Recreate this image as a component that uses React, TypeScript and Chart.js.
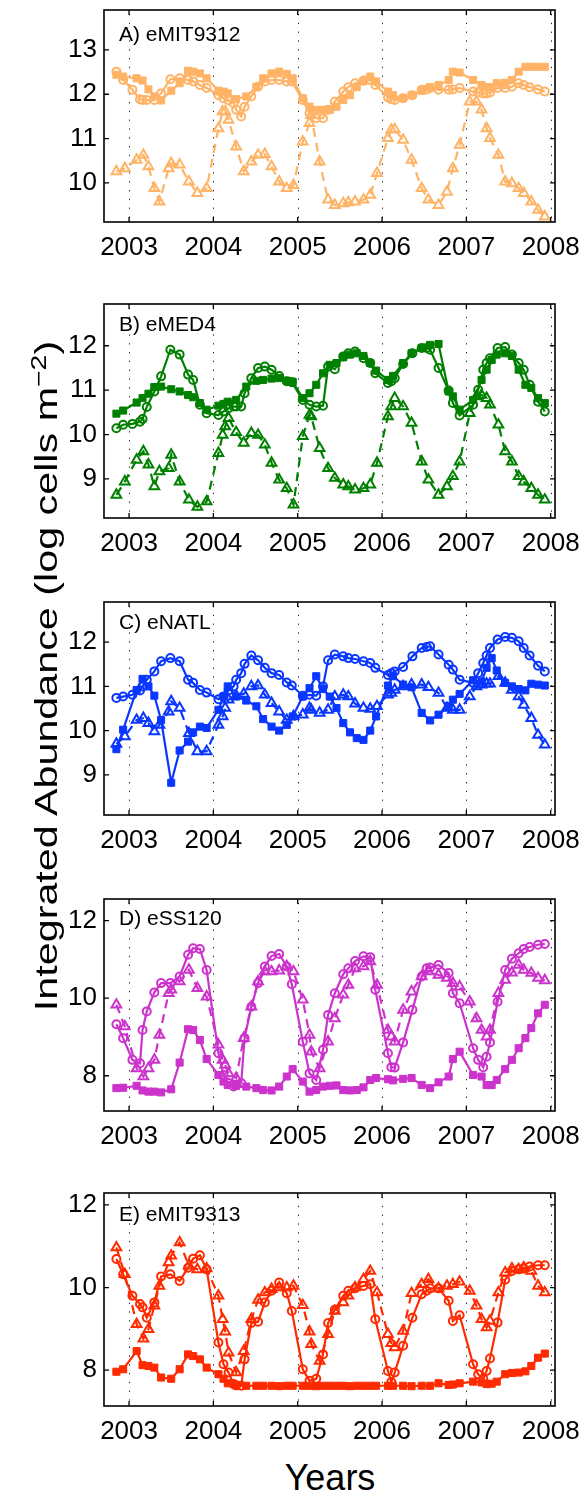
import React, { useEffect, useRef } from "react";
import { Chart, registerables } from "chart.js";

Chart.register(...registerables);

const FONT = '"Liberation Sans", Arial, Helvetica, sans-serif';

// x axis
const yearTicks = [2003, 2004, 2005, 2006, 2007, 2008];
const xMin = 2002.703;
const xMax = 2008.051;

// sampling dates (decimal years) of the three series
const squareDates = [
  2002.85, 2002.93, 2003.09, 2003.16, 2003.23, 2003.3, 2003.38, 2003.5, 2003.6, 2003.7,
  2003.76, 2003.84, 2003.92, 2004.06, 2004.12, 2004.17, 2004.27, 2004.39, 2004.51, 2004.59,
  2004.69, 2004.78, 2004.87, 2004.94, 2005.06, 2005.14, 2005.22, 2005.3, 2005.38, 2005.46,
  2005.54, 2005.62, 2005.7, 2005.78, 2005.86, 2005.93, 2006.07, 2006.13, 2006.25, 2006.35,
  2006.47, 2006.57, 2006.67, 2006.79, 2006.84, 2006.92, 2007.08, 2007.18, 2007.24, 2007.3,
  2007.36, 2007.46, 2007.54, 2007.62, 2007.7, 2007.77, 2007.85, 2007.93,
];
const circleDates = [
  2002.85, 2002.93, 2003.04, 2003.13, 2003.16, 2003.21, 2003.3, 2003.38, 2003.49, 2003.6,
  2003.7, 2003.76, 2003.84, 2003.92, 2004.06, 2004.12, 2004.18, 2004.24, 2004.27, 2004.33,
  2004.37, 2004.45, 2004.53, 2004.61, 2004.69, 2004.78, 2004.87, 2004.93, 2005.06, 2005.14,
  2005.22, 2005.3, 2005.36, 2005.44, 2005.54, 2005.6, 2005.68, 2005.78, 2005.86, 2005.92,
  2006.07, 2006.11, 2006.15, 2006.25, 2006.36, 2006.47, 2006.53, 2006.57, 2006.67, 2006.79,
  2006.84, 2006.92, 2007.08, 2007.14, 2007.2, 2007.24, 2007.28, 2007.37, 2007.46, 2007.54,
  2007.62, 2007.68, 2007.75, 2007.85, 2007.93,
];
const triangleDates = [
  2002.85, 2002.95, 2003.09, 2003.17, 2003.23, 2003.3, 2003.36, 2003.47, 2003.5, 2003.6,
  2003.71, 2003.81, 2003.92, 2004.06, 2004.11, 2004.14, 2004.18, 2004.27, 2004.36, 2004.45,
  2004.53, 2004.61, 2004.69, 2004.78, 2004.87, 2004.95, 2005.06, 2005.14, 2005.16, 2005.26,
  2005.36, 2005.44, 2005.54, 2005.6, 2005.68, 2005.78, 2005.86, 2005.94, 2006.07, 2006.11,
  2006.15, 2006.25, 2006.35, 2006.47, 2006.55, 2006.67, 2006.77, 2006.84, 2006.92, 2007.04,
  2007.12, 2007.18, 2007.24, 2007.28, 2007.38, 2007.46, 2007.54, 2007.62, 2007.68, 2007.77,
  2007.85, 2007.93,
];

// A) eMIT9312
const aSquares = [
  12.44, 12.4, 12.36, 12.31, 12.11, 11.95, 11.86, 12.08, 12.25, 12.53,
  12.51, 12.47, 12.36, 12.08, 12.06, 12.02, 11.89, 11.95, 12.17, 12.36,
  12.47, 12.51, 12.46, 12.36, 11.91, 11.72, 11.65, 11.65, 11.65, 11.72,
  11.87, 11.98, 12.16, 12.29, 12.4, 12.29, 12.06, 11.98, 11.91, 11.98,
  12.08, 12.16, 12.21, 12.32, 12.51, 12.49, 12.32, 12.21, 12.16, 12.16,
  12.25, 12.26, 12.32, 12.51, 12.62, 12.62, 12.62, 12.62,
];
const aCircles = [
  12.51, 12.32, 12.1, 11.89, 11.87, 11.87, 11.87, 12.02, 12.34, 12.36,
  12.32, 12.29, 12.21, 12.14, 11.98, 11.91, 11.86, 11.8, 11.65, 11.5,
  11.72, 11.95, 12.17, 12.29, 12.32, 12.32, 12.29, 12.29, 11.87, 11.57,
  11.46, 11.46, 11.65, 11.83, 12.06, 12.16, 12.25, 12.31, 12.32, 12.21,
  11.93, 11.89, 11.87, 11.91, 11.98, 12.1, 12.11, 12.14, 12.1, 12.1,
  12.11, 12.14, 12.06, 12.04, 12.02, 12.02, 12.04, 12.14, 12.14, 12.17,
  12.25, 12.21, 12.16, 12.11, 12.06,
];
const aTriangles = [
  10.26, 10.33, 10.52, 10.63, 10.37, 9.88, 9.58, 10.33, 10.44, 10.41,
  10.03, 9.77, 9.88, 11.23, 11.61, 11.61, 11.42, 10.82, 10.26, 10.48,
  10.63, 10.65, 10.37, 10.03, 9.88, 9.95, 10.93, 11.35, 11.53, 10.48,
  9.62, 9.5, 9.54, 9.56, 9.58, 9.62, 9.73, 10.22, 11.01, 11.2,
  11.21, 10.97, 10.52, 9.88, 9.62, 9.5, 9.8, 10.33, 10.86, 11.83,
  11.83, 11.65, 11.23, 11.01, 10.63, 10.03, 9.99, 9.88, 9.77, 9.58,
  9.39, 9.24,
];

// B) eMED4
const bSquares = [
  10.47, 10.54, 10.72, 10.82, 10.92, 11.07, 11.08, 11.02, 10.97, 10.89,
  10.84, 10.71, 10.56, 10.65, 10.69, 10.74, 10.78, 11.08, 11.21, 11.23,
  11.26, 11.27, 11.21, 11.19, 10.82, 10.93, 11.12, 11.38, 11.57, 11.61,
  11.74, 11.8, 11.83, 11.77, 11.61, 11.44, 11.23, 11.32, 11.61, 11.83,
  11.95, 12.02, 12.04, 10.97, 10.86, 10.56, 10.78, 11.23, 11.46, 11.68,
  11.8, 11.83, 11.77, 11.46, 11.12, 11.05, 10.82, 10.71,
];
const bCircles = [
  10.14, 10.22, 10.24, 10.29, 10.35, 10.62, 10.97, 11.31, 11.91, 11.8,
  11.35, 11.23, 10.67, 10.48, 10.44, 10.52, 10.59, 10.63, 10.63, 10.63,
  10.93, 11.27, 11.5, 11.53, 11.46, 11.32, 11.2, 11.18, 10.78, 10.67,
  10.63, 10.65, 11.53, 11.47, 11.76, 11.83, 11.87, 11.72, 11.61, 11.38,
  11.16, 11.2, 11.27, 11.59, 11.83, 11.95, 11.95, 11.91, 11.5, 10.99,
  10.71, 10.43, 10.67, 11.01, 11.46, 11.61, 11.72, 11.95, 11.97, 11.8,
  11.61, 11.46, 11.12, 10.74, 10.52,
];
const bTriangles = [
  8.64, 8.94, 9.43, 9.62, 9.32, 8.83, 9.17, 9.24, 9.54, 8.94,
  8.53, 8.37, 8.49, 9.58, 9.99, 10.18, 10.37, 10.05, 9.81, 10.03,
  9.99, 9.77, 9.36, 8.98, 8.79, 8.42, 9.96, 10.44, 10.41, 9.69,
  9.24, 9.02, 8.87, 8.83, 8.76, 8.79, 8.87, 9.36, 10.41, 10.63,
  10.82, 10.63, 10.26, 9.39, 8.98, 8.64, 8.83, 9.06, 9.39, 10.48,
  10.86, 10.89, 10.82, 10.67, 10.22, 9.62, 9.39, 9.06, 8.94, 8.79,
  8.64, 8.53,
];

// C) eNATL
const cSquares = [
  9.58, 10.02, 10.92, 11.17, 11.0, 10.79, 10.24, 8.82, 9.55, 9.75,
  9.96, 10.09, 10.06, 10.47, 10.77, 11.0, 10.77, 10.68, 10.55, 10.26,
  10.09, 10.0, 10.13, 10.32, 10.77, 10.96, 11.23, 10.94, 10.77, 10.51,
  10.17, 9.96, 9.83, 9.79, 10.0, 10.32, 11.02, 11.23, 11.04, 10.98,
  10.4, 10.23, 10.36, 10.55, 10.7, 10.83, 11.14, 11.11, 11.42, 11.64,
  11.36, 11.08, 11.0, 10.94, 10.91, 11.06, 11.04, 11.02,
];
const cCircles = [
  10.74, 10.77, 10.81, 10.91, 11.0, 11.15, 11.34, 11.57, 11.64, 11.57,
  11.15, 11.08, 10.92, 10.86, 10.71, 10.77, 10.91, 11.0, 11.15, 11.3,
  11.51, 11.7, 11.59, 11.42, 11.3, 11.26, 11.09, 11.02, 10.79, 10.81,
  10.79, 11.0, 11.59, 11.72, 11.68, 11.64, 11.62, 11.57, 11.53, 11.42,
  11.26, 11.3, 11.34, 11.44, 11.68, 11.87, 11.89, 11.91, 11.72, 11.49,
  11.38, 11.15, 11.08, 11.3, 11.53, 11.7, 11.87, 12.06, 12.12, 12.1,
  12.02, 11.87, 11.7, 11.47, 11.34,
];
const cTriangles = [
  9.7, 9.87, 10.24, 10.28, 10.17, 9.98, 10.13, 10.43, 10.66, 10.51,
  9.94, 9.53, 9.53, 10.13, 10.32, 10.51, 10.7, 10.79, 10.83, 11.0,
  11.02, 10.81, 10.62, 10.43, 10.24, 10.32, 10.36, 10.51, 10.47, 10.4,
  10.47, 10.77, 10.81, 10.77, 10.61, 10.51, 10.49, 10.55, 10.81, 10.85,
  10.92, 11.0, 11.04, 11.04, 10.98, 10.85, 10.51, 10.47, 10.47, 10.77,
  11.0, 11.04, 11.06, 11.06, 11.23, 11.08, 10.92, 10.77, 10.58, 10.28,
  9.9, 9.68,
];

// D) eSS120
const dSquares = [
  7.68, 7.69, 7.74, 7.62, 7.59, 7.59, 7.57, 7.65, 8.34, 9.2,
  9.18, 8.92, 8.43, 8.02, 7.85, 7.76, 7.74, 7.72, 7.68, 7.63,
  7.62, 7.72, 7.98, 8.17, 7.85, 7.59, 7.63, 7.72, 7.74, 7.75,
  7.63, 7.62, 7.63, 7.7, 7.89, 7.94, 7.91, 7.88, 7.92, 7.94,
  7.76, 7.68, 7.83, 7.98, 8.43, 8.62, 8.02, 7.98, 7.76, 7.76,
  7.89, 8.17, 8.41, 8.71, 8.97, 9.23, 9.61, 9.83,
];
const dCircles = [
  9.33, 8.97, 8.41, 8.32, 9.18, 9.66, 10.15, 10.39, 10.39, 10.56,
  11.12, 11.29, 11.27, 10.73, 8.58, 8.02, 7.81, 7.72, 7.76, 7.81,
  8.97, 9.78, 10.39, 10.82, 11.09, 11.14, 10.82, 10.36, 8.88, 8.06,
  7.89, 8.67, 9.57, 10.13, 10.62, 10.77, 10.96, 11.08, 11.06, 10.22,
  8.58, 8.22, 8.21, 8.86, 9.7, 10.56, 10.77, 10.79, 10.86, 10.65,
  10.13, 9.87, 8.71, 8.41, 8.22, 8.49, 8.86, 9.91, 10.73, 11.02,
  11.16, 11.27, 11.32, 11.38, 11.4,
];
const dTriangles = [
  9.83, 9.27, 8.19, 7.98, 8.19, 8.41, 9.05, 10.13, 10.22, 10.43,
  10.73, 10.26, 10.04, 8.8, 8.41, 8.28, 8.06, 7.94, 8.97, 9.78,
  10.43, 10.69, 10.69, 10.71, 10.82, 10.69, 9.96, 9.05, 8.62, 8.19,
  8.88, 9.48, 10.09, 10.34, 10.77, 10.82, 10.95, 10.34, 9.18, 9.01,
  8.88, 9.7, 10.17, 10.56, 10.69, 10.6, 10.52, 10.39, 10.3, 9.91,
  9.48, 9.18, 9.01, 9.18, 10.13, 10.47, 10.66, 10.86, 10.73, 10.65,
  10.52, 10.46,
];

// E) eMIT9313
const eSquares = [
  7.96, 8.02, 8.46, 8.12, 8.1, 8.06, 7.82, 7.79, 8.02, 8.38,
  8.34, 8.26, 8.06, 7.9, 7.79, 7.68, 7.63, 7.62, 7.62, 7.62,
  7.62, 7.61, 7.62, 7.62, 7.62, 7.62, 7.61, 7.62, 7.62, 7.62,
  7.62, 7.61, 7.62, 7.62, 7.62, 7.62, 7.62, 7.62, 7.62, 7.61,
  7.62, 7.62, 7.68, 7.64, 7.65, 7.68, 7.72, 7.7, 7.66, 7.67,
  7.72, 7.9, 7.93, 7.94, 7.97, 8.1, 8.3, 8.4,
];
const eCircles = [
  10.69, 10.32, 9.8, 9.6, 9.52, 9.27, 9.64, 10.27, 10.32, 10.16,
  10.48, 10.7, 10.78, 10.44, 8.67, 8.14, 7.94, 7.66, 7.63, 7.62,
  8.26, 9.14, 9.17, 9.64, 9.92, 10.12, 9.86, 9.43, 8.02, 7.74,
  7.79, 8.38, 9.14, 9.46, 9.8, 9.92, 9.98, 10.04, 10.08, 9.23,
  7.98, 7.71, 7.94, 8.59, 9.27, 9.84, 9.92, 9.98, 9.98, 9.68,
  9.19, 9.33, 8.14, 7.9, 7.79, 7.98, 8.28, 9.15, 10.19, 10.4,
  10.44, 10.46, 10.51, 10.54, 10.54,
];
const eTriangles = [
  10.97, 10.32, 9.11, 8.76, 8.99, 9.56, 10.04, 10.61, 10.77, 11.09,
  10.53, 10.44, 10.46, 9.8, 9.23, 8.93, 8.42, 7.94, 8.46, 9.23,
  9.7, 9.88, 9.96, 10.0, 10.0, 10.04, 9.57, 8.93, 8.63, 8.22,
  8.87, 9.43, 9.64, 9.8, 10.0, 10.2, 10.4, 9.88, 8.87, 8.65,
  8.55, 8.95, 9.86, 10.08, 10.2, 9.98, 10.04, 10.08, 10.14, 9.92,
  9.56, 9.23, 9.03, 9.19, 9.88, 10.36, 10.46, 10.44, 10.48, 10.4,
  10.04, 9.88,
];

// y tick values per panel
const yTicksA = [10, 11, 12, 13];
const yTicksB = [9, 10, 11, 12];
const yTicksC = [9, 10, 11, 12];
const yTicksD = [8, 10, 12];
const yTicksE = [8, 10, 12];

type PanelDef = {
  label: string;
  color: string;
  yMin: number;
  yMax: number;
  yTicks: number[];
  squares: number[];
  circles: number[];
  triangles: number[];
  boxTop: number;
  boxBottom: number;
  labelDy: number;
};

const panels: PanelDef[] = [
  { label: "A) eMIT9312", color: "#ffb366", yMin: 9.12, yMax: 13.9, yTicks: yTicksA, squares: aSquares, circles: aCircles, triangles: aTriangles, boxTop: 10, boxBottom: 222, labelDy: 31 },
  { label: "B) eMED4", color: "#008000", yMin: 8.12, yMax: 12.94, yTicks: yTicksB, squares: bSquares, circles: bCircles, triangles: bTriangles, boxTop: 304, boxBottom: 518, labelDy: 27 },
  { label: "C) eNATL", color: "#0a37ff", yMin: 8.09, yMax: 12.91, yTicks: yTicksC, squares: cSquares, circles: cCircles, triangles: cTriangles, boxTop: 602, boxBottom: 815, labelDy: 27 },
  { label: "D) eSS120", color: "#cc33cc", yMin: 7.09, yMax: 12.56, yTicks: yTicksD, squares: dSquares, circles: dCircles, triangles: dTriangles, boxTop: 899, boxBottom: 1111, labelDy: 26 },
  { label: "E) eMIT9313", color: "#ff2a00", yMin: 7.13, yMax: 12.29, yTicks: yTicksE, squares: eSquares, circles: eCircles, triangles: eTriangles, boxTop: 1193, boxBottom: 1406, labelDy: 28 },
];

const PAD_TOP = 10;
const X_AXIS_H = 48;
const Y_AXIS_W = 104;
const PAD_RIGHT = 29;
const CANVAS_W = 584;

function framePlugin(p: PanelDef) {
  return {
    id: "frame",
    beforeDatasetsDraw(chart: any) {
      const { ctx, chartArea: a, scales } = chart;
      ctx.save();
      ctx.strokeStyle = "#222";
      ctx.lineWidth = 1;
      ctx.setLineDash([1.3, 7.5]);
      for (const t of yearTicks) {
        const px = Math.round(scales.x.getPixelForValue(t)) + 0.5;
        ctx.beginPath();
        ctx.moveTo(px, a.top + 4);
        ctx.lineTo(px, a.bottom);
        ctx.stroke();
      }
      ctx.restore();
    },
    afterDatasetsDraw(chart: any) {
      const { ctx, chartArea: a, scales } = chart;
      ctx.save();
      ctx.strokeStyle = "#000";
      ctx.lineWidth = 1.3;
      ctx.setLineDash([]);
      const tl = 5;
      for (const t of yearTicks) {
        const px = scales.x.getPixelForValue(t);
        ctx.beginPath();
        ctx.moveTo(px, a.bottom);
        ctx.lineTo(px, a.bottom - tl);
        ctx.moveTo(px, a.top);
        ctx.lineTo(px, a.top + tl);
        ctx.stroke();
      }
      for (const t of p.yTicks) {
        const py = scales.y.getPixelForValue(t);
        ctx.beginPath();
        ctx.moveTo(a.left, py);
        ctx.lineTo(a.left + tl, py);
        ctx.moveTo(a.right, py);
        ctx.lineTo(a.right - tl, py);
        ctx.stroke();
      }
      ctx.lineWidth = 1.6;
      ctx.strokeRect(a.left, a.top, a.right - a.left, a.bottom - a.top);
      ctx.fillStyle = "#000";
      ctx.font = `21px ${FONT}`;
      ctx.textAlign = "left";
      ctx.textBaseline = "alphabetic";
      ctx.fillText(p.label, a.left + 15, a.top + p.labelDy);
      ctx.restore();
    },
  };
}

function Panel({ p }: { p: PanelDef }) {
  const ref = useRef<HTMLCanvasElement>(null);
  const H = p.boxBottom - p.boxTop + PAD_TOP + X_AXIS_H;
  useEffect(() => {
    const canvas = ref.current;
    if (!canvas) return;
    const mk = (dates: number[], vals: number[]) => dates.map((x, i) => ({ x, y: vals[i] }));
    const chart = new Chart(canvas, {
      type: "line",
      data: {
        datasets: [
          {
            data: mk(squareDates, p.squares),
            borderColor: p.color,
            backgroundColor: p.color,
            pointBackgroundColor: p.color,
            pointBorderColor: p.color,
            pointStyle: "rect",
            pointRadius: 5,
            pointBorderWidth: 1,
            borderWidth: 2.2,
            tension: 0,
            fill: false,
            clip: false,
          },
          {
            data: mk(circleDates, p.circles),
            borderColor: p.color,
            backgroundColor: "rgba(0,0,0,0)",
            pointBackgroundColor: "rgba(0,0,0,0)",
            pointBorderColor: p.color,
            pointStyle: "circle",
            pointRadius: 4,
            pointBorderWidth: 2,
            borderWidth: 2.2,
            tension: 0,
            fill: false,
            clip: false,
          },
          {
            data: mk(triangleDates, p.triangles),
            borderColor: p.color,
            backgroundColor: "rgba(0,0,0,0)",
            pointBackgroundColor: "rgba(0,0,0,0)",
            pointBorderColor: p.color,
            pointStyle: "triangle",
            pointRadius: 5.6,
            pointBorderWidth: 2,
            borderWidth: 2.2,
            borderDash: [9, 6],
            tension: 0,
            fill: false,
            clip: false,
          },
        ],
      },
      options: {
        responsive: false,
        animation: false,
        devicePixelRatio: 1,
        events: [],
        layout: { padding: { top: PAD_TOP, right: PAD_RIGHT, left: 0, bottom: 0 } },
        plugins: { legend: { display: false }, tooltip: { enabled: false } },
        scales: {
          x: {
            type: "linear",
            min: xMin,
            max: xMax,
            grid: { display: false, drawTicks: false },
            border: { display: false },
            afterBuildTicks: (s: any) => {
              s.ticks = yearTicks.map((v) => ({ value: v }));
            },
            afterFit: (s: any) => {
              s.height = X_AXIS_H;
              s.paddingLeft = 0;
              s.paddingRight = 0;
            },
            ticks: {
              autoSkip: false,
              maxRotation: 0,
              minRotation: 0,
              padding: 10,
              color: "#000",
              font: { family: FONT, size: 26 },
              callback: (v: any) => String(v),
            },
          },
          y: {
            type: "linear",
            min: p.yMin,
            max: p.yMax,
            grid: { display: false, drawTicks: false },
            border: { display: false },
            afterBuildTicks: (s: any) => {
              s.ticks = p.yTicks.map((v) => ({ value: v }));
            },
            afterFit: (s: any) => {
              s.width = Y_AXIS_W;
              s.paddingTop = 0;
              s.paddingBottom = 0;
            },
            ticks: {
              padding: 7,
              color: "#000",
              font: { family: FONT, size: 26 },
              callback: (v: any) => String(v),
            },
          },
        },
      },
      plugins: [framePlugin(p)],
    } as any);
    return () => chart.destroy();
  }, []);
  return (
    <canvas
      ref={ref}
      width={CANVAS_W}
      height={H}
      style={{ position: "absolute", left: 0, top: p.boxTop - PAD_TOP, display: "block" }}
    />
  );
}

export default function App() {
  return (
    <div style={{ position: "absolute", left: 0, top: 0, width: 584, height: 1501, background: "#fff", overflow: "hidden" }}>
      {panels.map((p) => (
        <Panel key={p.label} p={p} />
      ))}
      <div
        style={{
          position: "absolute",
          left: 45.9 - 400,
          top: 676 - 20,
          width: 800,
          height: 40,
          lineHeight: "40px",
          fontSize: 32,
          fontFamily: FONT,
          textAlign: "center",
          whiteSpace: "nowrap",
          color: "#000",
          transform: "rotate(-90deg) scaleX(1.29)",
          transformOrigin: "50% 50%",
        }}
      >
        Integrated Abundance (log cells m
        <span style={{ fontSize: 22, verticalAlign: "0.5em", lineHeight: 0 }}>−2</span>)
      </div>
      <div
        style={{
          position: "absolute",
          left: 230,
          top: 1460,
          width: 200,
          height: 36,
          lineHeight: "36px",
          fontSize: 36,
          fontFamily: FONT,
          textAlign: "center",
          color: "#000",
        }}
      >
        Years
      </div>
    </div>
  );
}
